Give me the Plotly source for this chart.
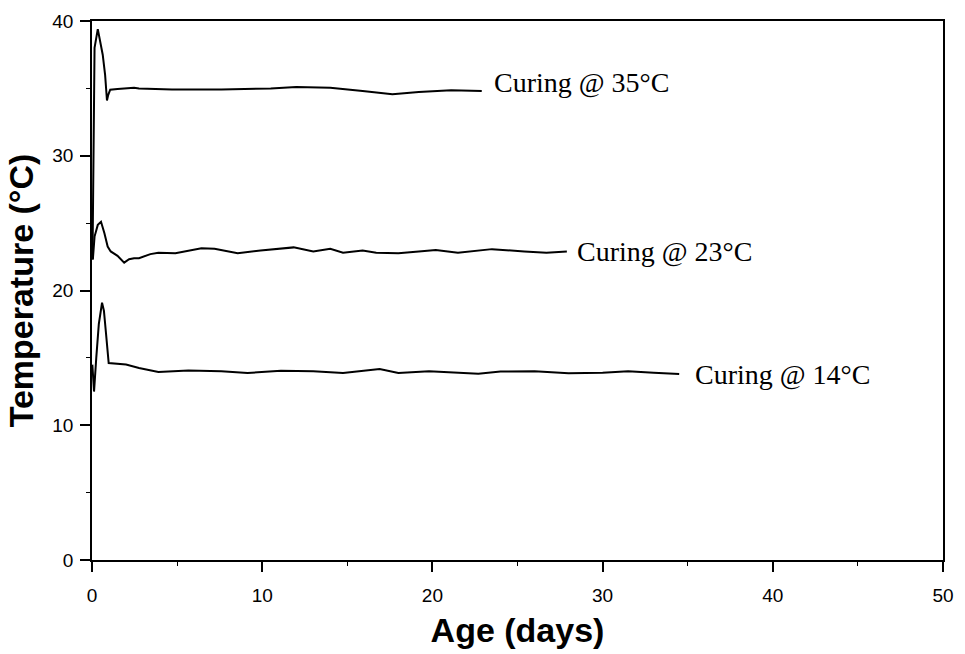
import plotly.graph_objects as go

# Age (days) and temperature (°C) for each curing temperature
days35 = [0.03, 0.08, 0.15, 0.34, 0.45, 0.63, 0.77, 0.88, 0.95, 1.07, 1.5, 2.47,
          2.76, 4.7, 7.6, 10.5, 12.0, 14.0, 15.9, 17.65, 19.2, 21.1, 22.9]
temps35 = [22.3, 30.0, 38.0, 39.4, 38.6, 37.5, 36.0, 34.1, 34.5, 34.9, 34.95, 35.05,
           34.99, 34.92, 34.92, 35.0, 35.1, 35.04, 34.8, 34.57, 34.74, 34.87, 34.81]

days23 = [0.05, 0.15, 0.34, 0.53, 0.73, 0.92, 1.1, 1.5, 1.89, 2.18, 2.47, 2.76,
          3.43, 3.9, 4.9, 5.6, 6.43, 7.2, 8.56, 9.9, 11.85, 13.0, 14.0, 14.75,
          15.9, 16.7, 18.0, 19.2, 20.2, 21.5, 23.5, 25.4, 26.7, 27.9]
temps23 = [22.3, 24.0, 24.87, 25.1, 24.25, 23.26, 22.9, 22.57, 22.07, 22.32, 22.4, 22.4,
           22.7, 22.8, 22.77, 22.95, 23.14, 23.1, 22.77, 22.96, 23.2, 22.9, 23.1, 22.8,
           22.96, 22.8, 22.77, 22.9, 23.0, 22.8, 23.07, 22.9, 22.8, 22.9]

days14 = [0.02, 0.12, 0.25, 0.4, 0.59, 0.7, 0.82, 0.98, 2.0, 2.76, 3.9, 5.66,
          7.6, 9.14, 11.1, 13.0, 14.75, 16.9, 18.0, 19.8, 22.7, 24.0, 26.0,
          28.0, 30.0, 31.5, 33.0, 34.5]
temps14 = [14.5, 12.5, 15.0, 17.5, 19.1, 18.5, 16.85, 14.62, 14.5, 14.25, 13.96, 14.07,
           14.0, 13.88, 14.05, 14.0, 13.88, 14.18, 13.88, 14.0, 13.83, 13.98, 14.0,
           13.85, 13.9, 14.0, 13.9, 13.8]

labels = ["Curing @ 35°C", "Curing @ 23°C", "Curing @ 14°C"]
label_x = [23.5, 28.4, 35.3]
label_y = [35.45, 22.9, 13.8]

fig = go.Figure()
for d, t in [(days35, temps35), (days23, temps23), (days14, temps14)]:
    fig.add_trace(go.Scatter(x=d, y=t, mode="lines",
                             line=dict(color="black", width=2),
                             showlegend=False, hoverinfo="skip"))

for txt, lx, ly in zip(labels, label_x, label_y):
    fig.add_annotation(x=lx, y=ly, text=txt, showarrow=False,
                       xanchor="left", yanchor="middle",
                       font=dict(family="Liberation Serif", size=28, color="black"))

axis_common = dict(showline=True, linecolor="black", linewidth=1.5, mirror=True,
                   ticks="outside", ticklen=10, tickcolor="black", tickwidth=1.5,
                   showgrid=False, zeroline=False,
                   tickfont=dict(family="Liberation Sans", size=19, color="black"),
                   minor=dict(ticks="outside", ticklen=4, dtick=5, tickcolor="black",
                              tickwidth=1.2, showgrid=False))

fig.update_xaxes(range=[0, 50], dtick=10, tick0=0, ticklabelstandoff=7,
                 title=dict(text="Age (days)", standoff=14,
                            font=dict(family="Liberation Sans", size=34, color="black",
                                      weight="bold")),
                 **axis_common)
fig.update_yaxes(range=[0, 40], dtick=10, tick0=0, ticklabelstandoff=3,
                 title=dict(text="Temperature (°C)", standoff=8,
                            font=dict(family="Liberation Sans", size=34, color="black",
                                      weight="bold")),
                 **axis_common)

fig.update_layout(width=965, height=654,
                  margin=dict(l=92, r=11, t=21, b=93),
                  plot_bgcolor="white", paper_bgcolor="white")

fig.write_html("out.html")
